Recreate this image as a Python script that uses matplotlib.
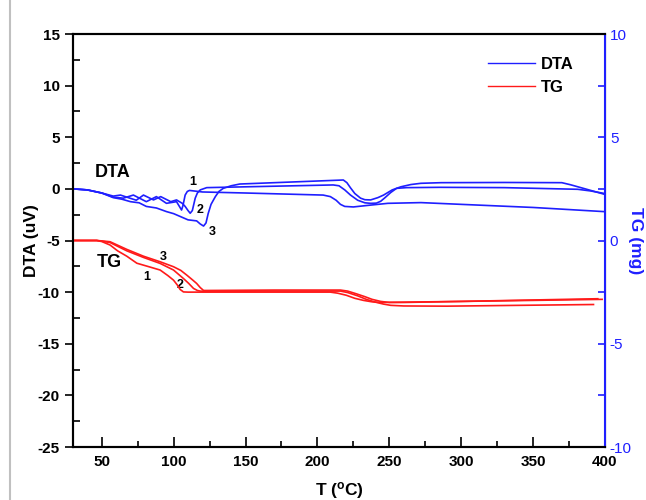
import numpy as np
import matplotlib
matplotlib.use("Agg")
import matplotlib.pyplot as plt
from matplotlib.lines import Line2D
from matplotlib.ticker import MultipleLocator

plt.rcParams['font.family'] = ['Liberation Sans', 'DejaVu Sans']
plt.rcParams['mathtext.fontset'] = 'custom'
plt.rcParams['mathtext.rm'] = 'Liberation Sans:bold'
plt.rcParams['mathtext.it'] = 'Liberation Sans:bold'
plt.rcParams['mathtext.bf'] = 'Liberation Sans:bold'
plt.rcParams['axes.unicode_minus'] = False

# DTA curves (left axis, uV)
dta1_x = [30, 40, 50, 58, 65, 72, 81, 88, 95, 102, 104, 105.5, 106.5, 108, 109.5, 111, 114, 120, 150, 204,
          209, 213, 216, 219, 225, 235, 249, 272, 300, 350, 399]
dta1_y = [0, -0.1, -0.4, -0.8, -0.9, -0.6, -1.24, -0.75, -1.4, -1.24, -1.7, -2.05, -1.6, -0.6, -0.25, -0.15, -0.2, -0.3, -0.4, -0.6,
          -0.75, -1.1, -1.5, -1.7, -1.75, -1.6, -1.4, -1.33, -1.5, -1.8, -2.2]

dta2_x = [30, 40, 50, 58, 63, 74, 79, 86, 91, 98, 102, 106, 108, 110, 111.5, 113, 115, 116.5, 118.5, 123, 211,
          215, 219, 223, 228, 233, 237, 241, 244, 247, 251, 255, 262, 285, 330, 381, 390, 399]
dta2_y = [0, -0.1, -0.4, -0.7, -0.6, -1.1, -0.6, -1.07, -0.75, -1.24, -1.07, -1.4, -1.7, -2.1, -2.36, -2.1, -0.9, -0.4, -0.1, 0.12, 0.38,
          0.3, -0.1, -0.6, -1.1, -1.35, -1.4, -1.38, -1.2, -0.85, -0.35, 0.05, 0.12, 0.15, 0.12, -0.04, -0.2, -0.43]

dta3_x = [30, 40, 50, 58, 64, 70, 76, 81, 88, 95, 100, 105, 110, 116, 118.5, 120.8, 122.5, 124, 126, 129, 131.5, 134.5, 140, 146, 218,
          220.5, 223, 226, 230, 233, 237, 242, 246, 252, 258, 265, 272, 286, 330, 370, 376, 385, 399]
dta3_y = [0, -0.1, -0.4, -0.85, -1.0, -1.24, -1.35, -1.7, -1.85, -2.2, -2.4, -2.7, -3.0, -3.1, -3.4, -3.6, -3.3, -2.4, -1.5, -0.75, -0.25, 0.05, 0.3, 0.47, 0.86,
          0.6, 0.1, -0.45, -0.9, -1.05, -1.07, -0.85, -0.6, -0.1, 0.2, 0.42, 0.54, 0.6, 0.62, 0.6, 0.4, 0.05, -0.5]

# TG curves (right axis, mg)
tg1_x = [30, 46.5, 50, 55.8, 61, 67.4, 74.4, 81.3, 90.6, 96, 99.9, 102.5, 104.5, 106.8, 110, 150, 209,
         214, 220, 226, 232, 238, 244, 300, 350, 395]
tg1_y = [0, 0, -0.05, -0.22, -0.5, -0.76, -1.1, -1.24, -1.43, -1.7, -1.92, -2.15, -2.37, -2.49, -2.5, -2.5, -2.5,
         -2.55, -2.65, -2.8, -2.9, -2.97, -3.0, -2.95, -2.88, -2.82]

tg2_x = [30, 46.5, 50, 55.8, 67.4, 79, 90.6, 99.9, 106.8, 110.5, 113.8, 116.5, 118.5, 122, 160, 216,
         221, 228, 234, 240, 246, 251, 260, 290, 340, 392]
tg2_y = [0, 0, -0.03, -0.1, -0.5, -0.82, -1.11, -1.43, -1.84, -2.08, -2.32, -2.42, -2.45, -2.46, -2.45, -2.45,
         -2.52, -2.68, -2.85, -2.98, -3.08, -3.14, -3.17, -3.18, -3.14, -3.1]

tg3_x = [30, 46.5, 50, 55.8, 67.4, 79, 90.6, 99.9, 105, 109.2, 113, 116, 118.5, 120.8, 124, 170, 216,
         221, 227, 233, 238, 244, 250, 260, 300, 350, 398]
tg3_y = [0, 0, -0.02, -0.06, -0.43, -0.76, -1.03, -1.27, -1.45, -1.68, -1.9, -2.08, -2.28, -2.42, -2.42, -2.4, -2.4,
         -2.45, -2.58, -2.72, -2.85, -2.95, -3.0, -3.0, -2.95, -2.9, -2.85]

blue = '#1f1fff'
red = '#ff1a1a'

fig = plt.figure(figsize=(6.46, 5.0), dpi=100)
ax = fig.add_axes([73/646, 1-447/500, (605-73)/646, (447-34)/500])
ax2 = ax.twinx()

for xs, ys in [(dta1_x, dta1_y), (dta2_x, dta2_y), (dta3_x, dta3_y)]:
    ax.plot(xs, ys, color=blue, lw=1.2, solid_joinstyle='round')
for xs, ys in [(tg1_x, tg1_y), (tg2_x, tg2_y), (tg3_x, tg3_y)]:
    ax2.plot(xs, ys, color=red, lw=1.2, solid_joinstyle='round')

ax.set_xlim(30, 400)
ax.set_ylim(-25, 15)
ax2.set_ylim(-10, 10)

ax.xaxis.set_major_locator(MultipleLocator(50))
ax.xaxis.set_minor_locator(MultipleLocator(25))
ax.yaxis.set_major_locator(MultipleLocator(5))
ax.yaxis.set_minor_locator(MultipleLocator(2.5))
ax2.yaxis.set_major_locator(MultipleLocator(5))
ax2.yaxis.set_minor_locator(MultipleLocator(2.5))

ax.tick_params(axis='x', which='major', direction='in', length=7, width=1.2, labelsize=11, pad=6)
ax.tick_params(axis='x', which='minor', direction='in', length=4, width=1.2)
ax.tick_params(axis='y', which='major', direction='out', length=6, width=1.2, labelsize=11)
ax.tick_params(axis='y', which='minor', direction='in', length=5, width=1.2)
ax.tick_params(top=False, which='both')
for lab in ax.get_xticklabels() + ax.get_yticklabels():
    lab.set_fontweight('bold')

ax2.tick_params(axis='y', which='both', direction='in', length=5, width=1.2, colors=blue, labelsize=11)
ax2.spines['right'].set_color(blue)
ax2.spines['right'].set_linewidth(1.5)
for sp in ['left', 'bottom', 'top']:
    ax.spines[sp].set_linewidth(1.5)
    ax2.spines[sp].set_linewidth(1.5)

ax.set_xlabel(r'T ($^{\mathrm{o}}$C)', fontsize=12.5, fontweight='bold', labelpad=8)
ax.set_ylabel('DTA (uV)', fontsize=12.5, fontweight='bold', labelpad=-1)
ax2.set_ylabel('TG (mg)', fontsize=12.5, fontweight='bold', color=blue, rotation=270, labelpad=8)

ax.text(45, 1.6, 'DTA', fontsize=13, fontweight='bold', va='center')
ax.text(46.5, -7.1, 'TG', fontsize=13, fontweight='bold', va='center')
ax.text(113.6, 0.7, '1', fontsize=9, fontweight='bold', ha='center', va='center')
ax.text(118.5, -2.0, '2', fontsize=9, fontweight='bold', ha='center', va='center')
ax.text(126.8, -4.2, '3', fontsize=9, fontweight='bold', ha='center', va='center')
ax.text(92.7, -6.6, '3', fontsize=9, fontweight='bold', ha='center', va='center')
ax.text(81.5, -8.5, '1', fontsize=9, fontweight='bold', ha='center', va='center')
ax.text(104.5, -9.3, '2', fontsize=9, fontweight='bold', ha='center', va='center')

handles = [Line2D([], [], color=blue, lw=1.0), Line2D([], [], color=red, lw=1.0)]
leg = ax.legend(handles, ['DTA', 'TG'], loc='upper right', bbox_to_anchor=(0.97, 0.98),
                frameon=False, handlelength=2.8, handletextpad=0.4, labelspacing=0.45,
                prop={'weight': 'bold', 'size': 12})

fig.add_artist(Line2D([10/646, 10/646], [0, 1], color='#c0c0c0', lw=1.5, transform=fig.transFigure))

fig.savefig('out.png', dpi=100)
